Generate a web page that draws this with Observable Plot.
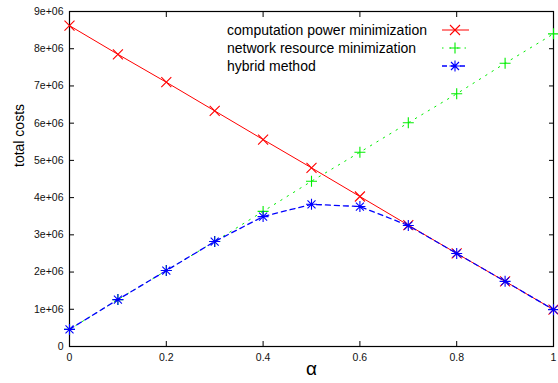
<!DOCTYPE html>
<html>
<head>
<meta charset="utf-8">
<script src="https://cdn.jsdelivr.net/npm/d3@7"></script>
<script src="https://cdn.jsdelivr.net/npm/@observablehq/plot@0.6"></script>
<style>
  html, body { margin: 0; padding: 0; background: #fff; }
  #chart { width: 558px; height: 383px; }
</style>
</head>
<body>
<div id="chart"></div>
<script>
// ---- data ----
const alphas = [0, 0.1, 0.2, 0.3, 0.4, 0.5, 0.6, 0.7, 0.8, 0.9, 1.0];
const computationPower = [8.62e6, 7.85e6, 7.10e6, 6.33e6, 5.56e6, 4.80e6, 4.03e6, 3.26e6, 2.50e6, 1.75e6, 0.99e6];
const networkResource = [0.46e6, 1.26e6, 2.04e6, 2.82e6, 3.63e6, 4.44e6, 5.22e6, 6.01e6, 6.79e6, 7.61e6, 8.40e6];
const hybridMethod   = [0.46e6, 1.26e6, 2.04e6, 2.82e6, 3.49e6, 3.82e6, 3.76e6, 3.25e6, 2.50e6, 1.75e6, 0.99e6];
const seriesNames = ["computation power minimization", "network resource minimization", "hybrid method"];
const xTicks = [0, 0.2, 0.4, 0.6, 0.8, 1];
const yTicks = [0, 1e6, 2e6, 3e6, 4e6, 5e6, 6e6, 7e6, 8e6, 9e6];
const xLabel = "α";
const yLabel = "total costs";

// ---- styles ----
const colors = ["#ff0000", "#00ee00", "#0000ff"];
const dashes = [null, "1.5,6", "5,4"];
const timesSym = {draw(c) { const r = 5; c.moveTo(-r, -r); c.lineTo(r, r); c.moveTo(-r, r); c.lineTo(r, -r); }};
const plusSym = {draw(c) { const r = 5.5; c.moveTo(-r, 0); c.lineTo(r, 0); c.moveTo(0, -r); c.lineTo(0, r); }};
const starSym = {draw(c) { const r = 5.5, d = 4; c.moveTo(-r, 0); c.lineTo(r, 0); c.moveTo(0, -r); c.lineTo(0, r);
  c.moveTo(-d, -d); c.lineTo(d, d); c.moveTo(-d, d); c.lineTo(d, -d); }};
const symbols = [timesSym, plusSym, starSym];

const seriesValues = [computationPower, networkResource, hybridMethod];
const tables = seriesValues.map((vals, k) => alphas.map((a, i) => ({alpha: a, cost: vals[i], series: seriesNames[k]})));

const yFmt = d => d === 0 ? "0" : `${d / 1e6}e+06`;
const xFmt = d => String(d);
const T = 5;

const marks = [
  Plot.frame({stroke: "#000", strokeWidth: 1.2}),
  // inward ticks
  Plot.axisY(yTicks, {anchor: "left", tickSize: T, dx: T, tickFormat: () => "", label: null, stroke: "#000"}),
  Plot.axisY(yTicks, {anchor: "right", tickSize: T, dx: -T, tickFormat: () => "", label: null, stroke: "#000"}),
  Plot.axisX(xTicks, {anchor: "bottom", tickSize: T, dy: -T, tickFormat: () => "", label: null, stroke: "#000"}),
  Plot.axisX(xTicks, {anchor: "top", tickSize: T, dy: T, tickFormat: () => "", label: null, stroke: "#000"}),
  // tick labels
  Plot.axisY(yTicks, {anchor: "left", tickSize: 0, tickPadding: 6, tickFormat: yFmt, label: null, fill: "#111"}),
  Plot.axisX(xTicks, {anchor: "bottom", tickSize: 0, tickPadding: 7, tickFormat: xFmt, label: null, fill: "#111"}),
  // axis titles
  Plot.text([yLabel], {text: d => d, frameAnchor: "left", dx: -50, dy: -12, rotate: -90, fontSize: 14, fill: "#000"}),
  Plot.text([xLabel], {text: d => d, frameAnchor: "bottom", dx: 0, dy: 28, fontSize: 19, fill: "#000"}),
];
tables.forEach((rows, k) => {
  marks.push(Plot.line(rows, {x: "alpha", y: "cost", stroke: colors[k], strokeWidth: k === 2 ? 1.3 : 1, strokeDasharray: dashes[k]}));
  marks.push(Plot.dot(rows, {x: "alpha", y: "cost", symbol: symbols[k], stroke: colors[k], fill: "none", strokeWidth: 1.1}));
});

const chart = Plot.plot({
  width: 558,
  height: 383,
  marginLeft: 69,
  marginRight: 5,
  marginTop: 11,
  marginBottom: 37,
  style: {fontFamily: "'Liberation Sans', Arial, sans-serif", fontSize: "10.5px", background: "#fff", color: "#000"},
  x: {domain: [0, 1]},
  y: {domain: [0, 9e6]},
  marks
});

// ---- legend (inside plot area, top) ----
const svg = d3.select(chart);
const lg = svg.append("g").attr("class", "legend").attr("text-anchor", "start");
seriesNames.forEach((name, k) => {
  const y = 30 + k * 18;
  lg.append("text").attr("x", 227).attr("y", y).attr("dy", "0.35em").attr("text-anchor", "start")
    .attr("font-size", 14).attr("font-family", "'Liberation Sans', Arial, sans-serif").attr("fill", "#000").text(name);
  lg.append("line").attr("x1", 442).attr("x2", 469).attr("y1", y).attr("y2", y)
    .attr("stroke", colors[k]).attr("stroke-width", k === 2 ? 1.3 : 1).attr("stroke-dasharray", dashes[k]);
  const p = d3.path();
  symbols[k].draw(p);
  lg.append("path").attr("d", p.toString()).attr("transform", `translate(455,${y})`)
    .attr("stroke", colors[k]).attr("fill", "none").attr("stroke-width", 1.1);
});

document.getElementById("chart").appendChild(chart);
</script>
</body>
</html>
